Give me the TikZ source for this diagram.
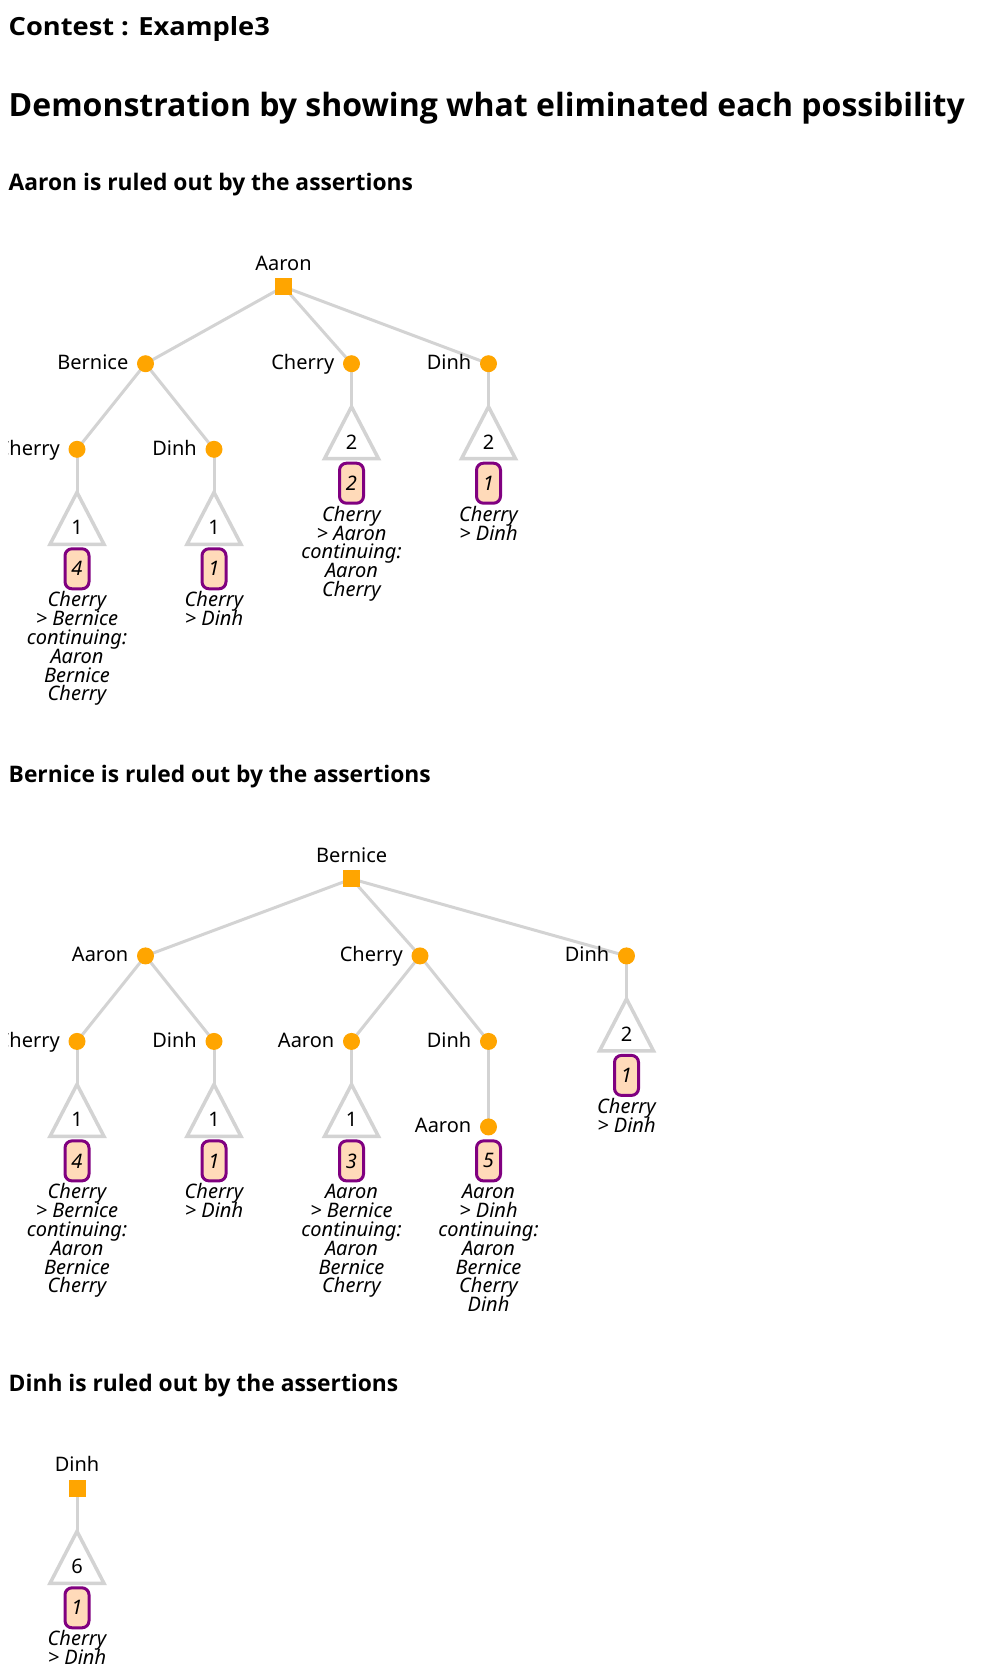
\documentclass[tikz,border=0pt]{standalone}
\usepackage{fontspec}
\setmainfont{Noto Sans}
\newfontfamily\headfont{Open Sans}
\newfontfamily\titlefont{Open Sans}[FakeStretch=1.09]
\definecolor{edgegray}{HTML}{D3D3D3}
\definecolor{nodeorange}{HTML}{FFA500}
\definecolor{badgepurple}{HTML}{800080}
\definecolor{badgefill}{HTML}{FFDAB9}
\pgfdeclarelayer{bg}
\pgfsetlayers{bg,main}
\tikzset{
  edge/.style={draw=edgegray, line width=3bp},
  tri/.style={draw=edgegray, line width=3.5bp, fill=white},
  sqnode/.style={rectangle, fill=nodeorange, minimum size=17bp, inner sep=0},
  dotnode/.style={circle, fill=nodeorange, minimum size=17bp, inner sep=0},
  lab/.style={inner sep=0, font=\fontsize{20bp}{24bp}\selectfont},
  num/.style={inner sep=0, font=\fontsize{20bp}{24bp}\selectfont},
  badge/.style={rectangle, rounded corners=7bp, draw=badgepurple, line width=3bp, fill=badgefill, minimum width=24bp, minimum height=40bp, inner sep=0, font=\fontsize{20bp}{22bp}\selectfont\itshape},
  txt/.style={inner sep=0, anchor=base, font=\fontsize{20bp}{24bp}\selectfont\itshape},
  hone/.style={inner sep=0, anchor=base west, font=\fontsize{25bp}{30bp}\titlefont\bfseries},
  htwo/.style={inner sep=0, anchor=base west, font=\fontsize{32bp}{38bp}\headfont\bfseries},
  hthree/.style={inner sep=0, anchor=base west, font=\fontsize{22.8bp}{27bp}\headfont\bfseries},
}
\newcommand\dotat[4]{%
  \node[dotnode] (#1) at (#2,#3) {};
  \node[lab, anchor=base east] (#1l) at (#2-17,#3+6) {#4};
}
\newcommand\link[2]{%
  \begin{pgfonlayer}{bg}\draw[edge] (#1.center) -- (#2.center);\end{pgfonlayer}
}
% #1 id, #2 x, #3 first baseline y, #4 list of lines
\newcommand\textlines[4]{%
  \foreach \ln [count=\li from 0] in {#4} {
    \node[txt] (#1\li) at (#2,#3+\li*18.8) {\ln};
  }
}
\newcommand\tribranch[7]{%
  \coordinate (#1a) at (#3,#4+43);
  \begin{pgfonlayer}{bg}\draw[edge] (#2.center) -- (#1a);\end{pgfonlayer}
  \draw[tri] (#1a) -- ++(-27,52) -- ++(54,0) -- cycle;
  \node[num, anchor=base] (#1n) at (#3,#4+43+52-9.5) {#5};
  \node[badge] (#1b) at (#3,#4+43+52+24.5) {#6};
  \textlines{#1t}{#3}{#4+43+52+62.5}{#7}
}
\begin{document}
\begin{tikzpicture}[x=1bp, y=-1bp]
\useasboundingbox (0,0) rectangle (991,1676);
\clip (8.5,0) rectangle (991,1676);

\node[hone] (title) at (8.5,36) {Contest : Example3};
\node[htwo] (demo) at (8.5,116.7) {Demonstration by showing what eliminated each possibility};

% ---------- Tree 1 ----------
\node[hthree] (hA) at (8.5,190) {Aaron is ruled out by the assertions};
\node[sqnode] (t1r) at (283.5,286.7) {};
\node[lab, anchor=base] (t1rl) at (283.5,270.1) {Aaron};
\dotat{t1b}{145.5}{363.7}{Bernice}
\dotat{t1c}{351.5}{363.7}{Cherry}
\dotat{t1d}{488.5}{363.7}{Dinh}
\dotat{t1bc}{77}{449.3}{Cherry}
\dotat{t1bd}{214}{449.3}{Dinh}
\link{t1r}{t1b}
\link{t1r}{t1c}
\link{t1r}{t1d}
\link{t1b}{t1bc}
\link{t1b}{t1bd}
\tribranch{t1p}{t1bc}{77}{449.3}{1}{4}{Cherry,> Bernice,continuing:,Aaron,Bernice,Cherry}
\tribranch{t1q}{t1bd}{214}{449.3}{1}{1}{Cherry,> Dinh}
\tribranch{t1s}{t1c}{351.5}{363.7}{2}{2}{Cherry,> Aaron,continuing:,Aaron,Cherry}
\tribranch{t1u}{t1d}{488.5}{363.7}{2}{1}{Cherry,> Dinh}

% ---------- Tree 2 ----------
\node[hthree] (hB) at (8.5,782.2) {Bernice is ruled out by the assertions};
\node[sqnode] (t2r) at (351.7,878.9) {};
\node[lab, anchor=base] (t2rl) at (351.7,862.3) {Bernice};
\dotat{t2a}{145.5}{955.9}{Aaron}
\dotat{t2c}{420}{955.9}{Cherry}
\dotat{t2d}{626.5}{955.9}{Dinh}
\dotat{t2ac}{77}{1041.4}{Cherry}
\dotat{t2ad}{214}{1041.4}{Dinh}
\dotat{t2ca}{351.5}{1041.4}{Aaron}
\dotat{t2cd}{488.5}{1041.4}{Dinh}
\dotat{t2cda}{488.5}{1126.9}{Aaron}
\link{t2r}{t2a}
\link{t2r}{t2c}
\link{t2r}{t2d}
\link{t2a}{t2ac}
\link{t2a}{t2ad}
\link{t2c}{t2ca}
\link{t2c}{t2cd}
\link{t2cd}{t2cda}
\tribranch{t2p}{t2ac}{77}{1041.4}{1}{4}{Cherry,> Bernice,continuing:,Aaron,Bernice,Cherry}
\tribranch{t2q}{t2ad}{214}{1041.4}{1}{1}{Cherry,> Dinh}
\tribranch{t2s}{t2ca}{351.5}{1041.4}{1}{3}{Aaron,> Bernice,continuing:,Aaron,Bernice,Cherry}
\tribranch{t2u}{t2d}{626.5}{955.9}{2}{1}{Cherry,> Dinh}
\node[badge] (t2vb) at (488.5,1160.9) {5};
\textlines{t2vt}{488.5}{1198.9}{Aaron,> Dinh,continuing:,Aaron,Bernice,Cherry,Dinh}

% ---------- Tree 3 ----------
\node[hthree] (hD) at (8.5,1391.5) {Dinh is ruled out by the assertions};
\node[sqnode] (t3r) at (77,1488.3) {};
\node[lab, anchor=base] (t3rl) at (77,1471.7) {Dinh};
\tribranch{t3p}{t3r}{77}{1488.3}{6}{1}{Cherry,> Dinh}
\end{tikzpicture}
\end{document}
